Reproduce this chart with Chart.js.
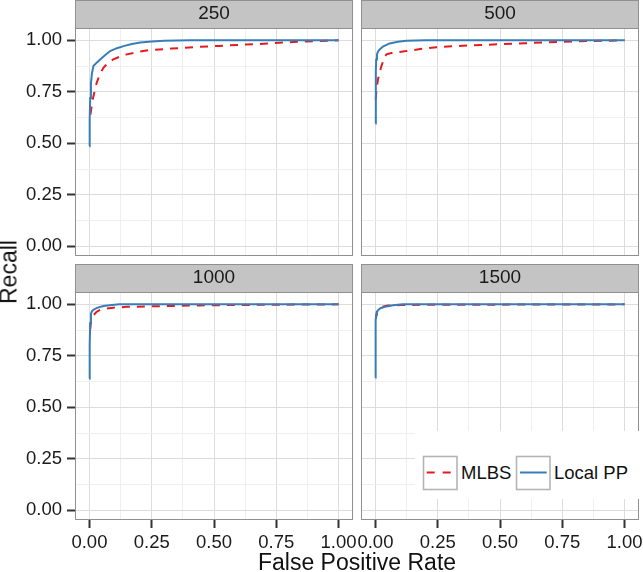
<!DOCTYPE html>
<html>
<head>
<meta charset="utf-8">
<script src="https://cdn.jsdelivr.net/npm/chart.js@4.4.1/dist/chart.umd.min.js"></script>
<style>
  html, body { margin: 0; padding: 0; background: #ffffff; }
  #wrap { position: relative; width: 643px; height: 572px; overflow: hidden;
          font-family: "Liberation Sans", Arial, Helvetica, sans-serif; }
  #wrap canvas { position: absolute; left: 0; top: 0; }
  .axt { position: absolute; color: #111; font-size: 23px; line-height: 23px; white-space: nowrap; }
  #xtitle { left: 357px; top: 551px; transform: translateX(-50%); }
  #ytitle { left: 9px; top: 272px; transform: translate(-50%, -50%) rotate(-90deg); }
  #legend { position: absolute; left: 415px; top: 431px; }
</style>
</head>
<body>
<div id="wrap">
  <canvas id="p1" width="643" height="572"></canvas>
  <canvas id="p2" width="643" height="572"></canvas>
  <canvas id="p3" width="643" height="572"></canvas>
  <canvas id="p4" width="643" height="572"></canvas>
  <div class="axt" id="xtitle">False Positive Rate</div>
  <div class="axt" id="ytitle">Recall</div>
  <svg id="legend" width="224" height="68" xmlns="http://www.w3.org/2000/svg">
    <rect x="0" y="0" width="224" height="68" fill="#ffffff"/>
    <rect x="8.5" y="25.5" width="33.5" height="33" fill="#ffffff" stroke="#b5b5b5" stroke-width="1.6"/>
    <line x1="11.7" y1="41.5" x2="36.7" y2="41.5" stroke="#E41A1C" stroke-width="2" stroke-dasharray="8,8"/>
    <text x="46" y="48" font-family="Liberation Sans, Arial, sans-serif" font-size="18.5" fill="#111">MLBS</text>
    <rect x="101.5" y="25.5" width="33.5" height="33" fill="#ffffff" stroke="#b5b5b5" stroke-width="1.6"/>
    <line x1="105" y1="41.5" x2="131.7" y2="41.5" stroke="#377EB8" stroke-width="2"/>
    <text x="139" y="48" font-family="Liberation Sans, Arial, sans-serif" font-size="18.5" fill="#111">Local PP</text>
  </svg>
</div>
<script>
// ---------------- data ----------------
const panelTitles = ['250', '500', '1000', '1500'];
const seriesNames = ['MLBS', 'Local PP'];
const tickValues = [0, 0.25, 0.5, 0.75, 1];

// panel 250
const mlbsFpr250 = [0.004, 0.01, 0.016, 0.029, 0.042, 0.056, 0.075, 0.096, 0.12, 0.15, 0.2, 0.244, 0.33, 0.418, 0.52, 0.618, 0.72, 0.819, 0.9, 1.0];
const mlbsRec250 = [0.64, 0.69, 0.729, 0.794, 0.835, 0.867, 0.89, 0.908, 0.92, 0.932, 0.945, 0.953, 0.96, 0.967, 0.973, 0.979, 0.985, 0.992, 0.996, 1.0];
const localFpr250 = [0, 0.001, 0.003, 0.006, 0.01, 0.016, 0.03, 0.043, 0.06, 0.083, 0.11, 0.137, 0.17, 0.204, 0.25, 0.3, 0.4, 0.6, 0.8, 1.0];
const localRec250 = [0.486, 0.62, 0.72, 0.79, 0.84, 0.875, 0.893, 0.907, 0.925, 0.948, 0.962, 0.972, 0.982, 0.99, 0.995, 0.998, 1.0, 1.0, 1.0, 1.0];

// panel 500
const mlbsFpr500 = [0.001, 0.005, 0.01, 0.017, 0.024, 0.034, 0.044, 0.07, 0.124, 0.18, 0.245, 0.35, 0.472, 0.6, 0.74, 0.87, 1.0];
const mlbsRec500 = [0.713, 0.77, 0.81, 0.845, 0.875, 0.91, 0.932, 0.94, 0.948, 0.958, 0.967, 0.974, 0.98, 0.986, 0.993, 0.997, 1.0];
const localFpr500 = [0, 0.001, 0.002, 0.003, 0.006, 0.01, 0.017, 0.03, 0.057, 0.09, 0.124, 0.2, 0.4, 1.0];
const localRec500 = [0.596, 0.75, 0.85, 0.907, 0.93, 0.945, 0.956, 0.97, 0.985, 0.993, 0.998, 1.0, 1.0, 1.0];

// panel 1000
const mlbsFpr1000 = [0.003, 0.006, 0.01, 0.016, 0.028, 0.043, 0.07, 0.096, 0.15, 0.24, 0.44, 0.7, 1.0];
const mlbsRec1000 = [0.88, 0.914, 0.932, 0.947, 0.963, 0.974, 0.98, 0.984, 0.988, 0.99, 0.995, 0.998, 1.0];
const localFpr1000 = [0, 0.001, 0.003, 0.006, 0.01, 0.016, 0.03, 0.056, 0.09, 0.12, 0.3, 1.0];
const localRec1000 = [0.639, 0.8, 0.91, 0.955, 0.966, 0.974, 0.983, 0.992, 0.997, 1.0, 1.0, 1.0];

// panel 1500
const mlbsFpr1500 = [0.002, 0.005, 0.01, 0.02, 0.05, 0.1, 0.2, 0.4, 0.6, 0.8, 1.0];
const mlbsRec1500 = [0.93, 0.962, 0.975, 0.986, 0.994, 0.997, 0.998, 0.998, 0.999, 0.999, 1.0];
const localFpr1500 = [0, 0.0005, 0.001, 0.003, 0.006, 0.01, 0.02, 0.044, 0.07, 0.11, 0.3, 1.0];
const localRec1500 = [0.644, 0.85, 0.922, 0.95, 0.963, 0.971, 0.981, 0.99, 0.996, 1.0, 1.0, 1.0];

// ---------------- layout / style ----------------
const CW = 643, CH = 572;
const COL_LEFT = [75, 361], COL_RIGHT = [353, 639];
const ROW_TOP = [28, 292], ROW_BOTTOM = [256, 520];
const STRIP_H = 28;
const X_MIN = -0.058, X_MAX = 1.058, Y_MIN = -0.047, Y_MAX = 1.06;
const FONT = "'Liberation Sans', Arial, Helvetica, sans-serif";
const MAJOR = '#dcdcdc', MINOR = '#efefef', BORDER = '#909090', STRIP = '#c4c4c4';
const RED = '#E41A1C', BLUE = '#377EB8';

Chart.defaults.font.family = FONT;
Chart.defaults.color = '#1a1a1a';

const isMajor = v => tickValues.some(t => Math.abs(t - v) < 1e-6);
const toXY = (xs, ys) => xs.map((x, i) => ({ x: x, y: ys[i] }));

const panelPlugin = {
  id: 'panelDeco',
  beforeDraw(chart) {
    const t = chart.titleBlock;
    const ctx = chart.ctx;
    ctx.save();
    ctx.fillStyle = STRIP;
    ctx.fillRect(t.left, t.top, t.width, t.height);
    ctx.strokeStyle = BORDER;
    ctx.lineWidth = 1;
    ctx.strokeRect(t.left + 0.5, t.top + 0.5, t.width - 1, t.height);
    ctx.restore();
  },
  afterDatasetsDraw(chart) {
    const a = chart.chartArea;
    const ctx = chart.ctx;
    ctx.save();
    ctx.strokeStyle = BORDER;
    ctx.lineWidth = 1;
    ctx.strokeRect(a.left + 0.5, a.top + 0.5, a.right - a.left - 1, a.bottom - a.top - 1);
    ctx.restore();
  }
};

function makePanel(id, title, mx, my, lx, ly, col, row) {
  const left = COL_LEFT[col], right = COL_RIGHT[col];
  const top = ROW_TOP[row], bottom = ROW_BOTTOM[row];
  const showY = col === 0, showX = row === 1;
  const yW = showY ? left : 0;
  const xH = showX ? CH - bottom : 0;
  const padding = { left: left - yW, right: CW - right, top: top - STRIP_H, bottom: CH - bottom - xH };

  const gridOpts = (show) => ({
    color: c => (c.tick && isMajor(c.tick.value)) ? MAJOR : MINOR,
    lineWidth: 1,
    drawTicks: show,
    tickLength: 8,
    tickWidth: 2,
    tickColor: c => (c.tick && isMajor(c.tick.value)) ? '#333333' : 'rgba(0,0,0,0)'
  });

  return new Chart(document.getElementById(id), {
    type: 'scatter',
    data: {
      datasets: [
        { label: seriesNames[0], data: toXY(mx, my), showLine: true, borderColor: RED, backgroundColor: RED,
          borderWidth: 2, borderDash: [8, 7], pointRadius: 0, tension: 0, order: 1 },
        { label: seriesNames[1], data: toXY(lx, ly), showLine: true, borderColor: BLUE, backgroundColor: BLUE,
          borderWidth: 2, pointRadius: 0, tension: 0, order: 0 }
      ]
    },
    options: {
      responsive: false,
      animation: false,
      events: [],
      layout: { padding: padding },
      plugins: {
        legend: { display: false },
        tooltip: { enabled: false },
        title: {
          display: true, text: title, fullSize: false, position: 'top',
          color: '#1a1a1a', font: { size: 19, weight: 'normal', lineHeight: STRIP_H / 19 },
          padding: { top: 0, bottom: 0 }
        }
      },
      scales: {
        x: {
          type: 'linear', min: X_MIN, max: X_MAX,
          afterFit: s => { s.height = xH; s.paddingLeft = 0; s.paddingRight = 0; },
          border: { display: false },
          grid: gridOpts(showX),
          ticks: {
            display: showX, stepSize: 0.125, includeBounds: false, autoSkip: false,
            maxRotation: 0, minRotation: 0, padding: 4, color: '#1a1a1a', font: { size: 18.5 },
            callback: v => isMajor(v) ? v.toFixed(2) : ''
          }
        },
        y: {
          type: 'linear', min: Y_MIN, max: Y_MAX,
          afterFit: s => { s.width = yW; s.paddingTop = 0; s.paddingBottom = 0; },
          border: { display: false },
          grid: gridOpts(showY),
          ticks: {
            display: showY, stepSize: 0.125, includeBounds: false, autoSkip: false,
            padding: 5, color: '#1a1a1a', font: { size: 18.5 },
            callback: v => isMajor(v) ? v.toFixed(2) : ''
          }
        }
      }
    },
    plugins: [panelPlugin]
  });
}

makePanel('p1', panelTitles[0], mlbsFpr250, mlbsRec250, localFpr250, localRec250, 0, 0);
makePanel('p2', panelTitles[1], mlbsFpr500, mlbsRec500, localFpr500, localRec500, 1, 0);
makePanel('p3', panelTitles[2], mlbsFpr1000, mlbsRec1000, localFpr1000, localRec1000, 0, 1);
makePanel('p4', panelTitles[3], mlbsFpr1500, mlbsRec1500, localFpr1500, localRec1500, 1, 1);
</script>
</body>
</html>
